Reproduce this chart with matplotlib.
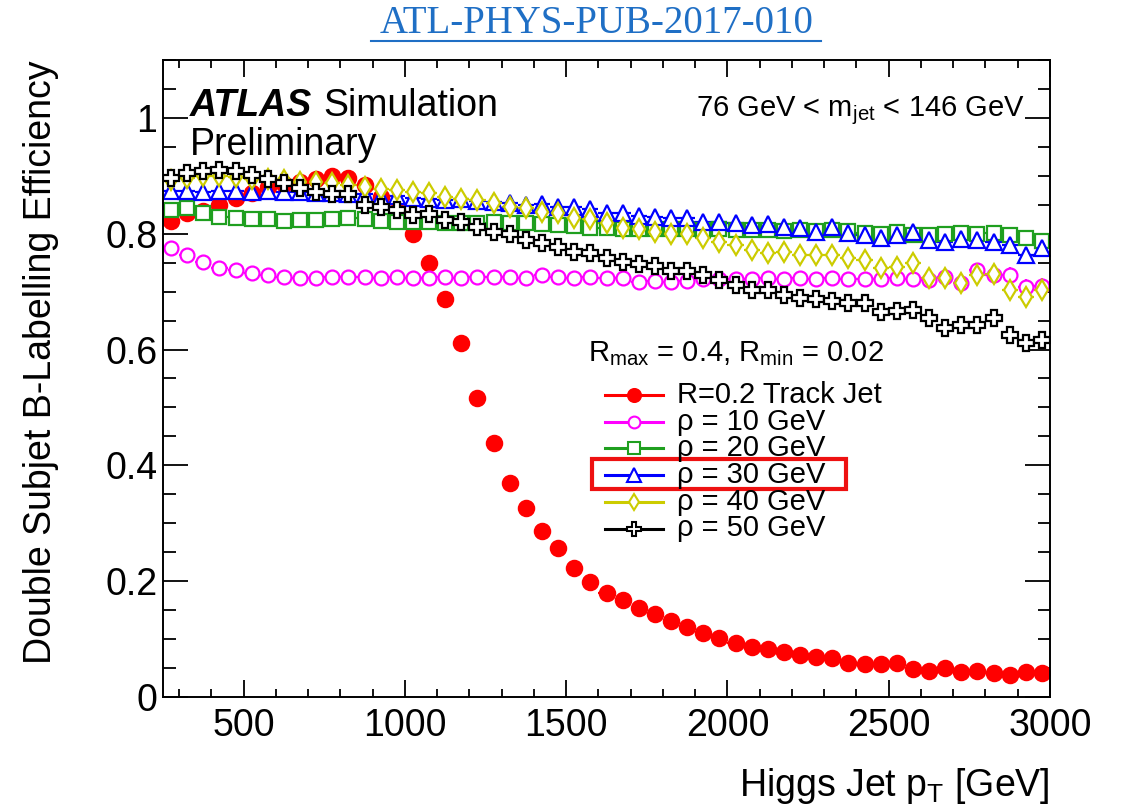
import numpy as np
import matplotlib
matplotlib.use('Agg')
import matplotlib.pyplot as plt
from matplotlib.lines import Line2D
from matplotlib.patches import Rectangle
from matplotlib.ticker import MultipleLocator, FuncFormatter

plt.rcParams['font.family'] = ['Liberation Sans', 'DejaVu Sans']
plt.rcParams['mathtext.fontset'] = 'custom'
plt.rcParams['mathtext.rm'] = 'Liberation Sans'
plt.rcParams['mathtext.it'] = 'Liberation Sans:italic'
plt.rcParams['mathtext.bf'] = 'Liberation Sans:bold'

# ── Data ─────────────────────────────────────────────────────────────────────
pt_centres = np.arange(275, 3000, 50)   # 50 GeV bins, 250 - 3000 GeV
half_bin = 25

eff_track = [0.822, 0.836, 0.839, 0.850, 0.862, 0.870, 0.881, 0.886, 0.890, 0.895,
             0.900, 0.897, 0.884, 0.863, 0.840, 0.800, 0.750, 0.688, 0.611, 0.517,
             0.438, 0.370, 0.327, 0.287, 0.257, 0.223, 0.199, 0.180, 0.167, 0.154,
             0.143, 0.131, 0.121, 0.110, 0.102, 0.093, 0.087, 0.083, 0.078, 0.073,
             0.069, 0.067, 0.059, 0.057, 0.057, 0.059, 0.048, 0.045, 0.050, 0.043,
             0.045, 0.041, 0.038, 0.043, 0.041]
eff_rho10 = [0.775, 0.764, 0.751, 0.741, 0.737, 0.732, 0.728, 0.725, 0.724, 0.724,
             0.725, 0.725, 0.726, 0.724, 0.725, 0.724, 0.724, 0.726, 0.724, 0.725,
             0.726, 0.725, 0.724, 0.728, 0.725, 0.724, 0.725, 0.723, 0.724, 0.717,
             0.718, 0.717, 0.718, 0.722, 0.721, 0.722, 0.722, 0.723, 0.722, 0.723,
             0.722, 0.723, 0.721, 0.722, 0.721, 0.723, 0.722, 0.720, 0.725, 0.715,
             0.737, 0.729, 0.729, 0.708, 0.710]
eff_rho20 = [0.841, 0.845, 0.836, 0.829, 0.827, 0.826, 0.826, 0.822, 0.824, 0.824,
             0.826, 0.827, 0.826, 0.822, 0.820, 0.820, 0.820, 0.818, 0.818, 0.818,
             0.820, 0.819, 0.818, 0.817, 0.815, 0.813, 0.810, 0.810, 0.809, 0.808,
             0.808, 0.809, 0.808, 0.807, 0.808, 0.807, 0.806, 0.806, 0.805, 0.806,
             0.804, 0.806, 0.804, 0.802, 0.800, 0.803, 0.798, 0.797, 0.799, 0.801,
             0.800, 0.801, 0.797, 0.792, 0.787]
eff_rho30 = [0.873, 0.874, 0.872, 0.873, 0.873, 0.872, 0.873, 0.872, 0.872, 0.871,
             0.870, 0.869, 0.868, 0.864, 0.866, 0.862, 0.860, 0.858, 0.860, 0.856,
             0.855, 0.853, 0.850, 0.851, 0.846, 0.847, 0.843, 0.836, 0.836, 0.831,
             0.829, 0.827, 0.828, 0.820, 0.821, 0.819, 0.815, 0.817, 0.812, 0.810,
             0.803, 0.812, 0.801, 0.798, 0.793, 0.798, 0.803, 0.789, 0.786, 0.791,
             0.789, 0.786, 0.780, 0.763, 0.775]
eff_rho40 = [0.893, 0.897, 0.900, 0.899, 0.898, 0.895, 0.894, 0.893, 0.890, 0.889,
             0.888, 0.885, 0.881, 0.877, 0.875, 0.872, 0.870, 0.864, 0.860, 0.858,
             0.853, 0.847, 0.844, 0.838, 0.835, 0.828, 0.825, 0.818, 0.810, 0.809,
             0.803, 0.800, 0.800, 0.793, 0.786, 0.781, 0.772, 0.767, 0.769, 0.763,
             0.763, 0.763, 0.758, 0.755, 0.741, 0.743, 0.750, 0.724, 0.724, 0.715,
             0.729, 0.730, 0.703, 0.690, 0.703]
eff_rho50 = [0.896, 0.905, 0.908, 0.910, 0.908, 0.902, 0.895, 0.888, 0.879, 0.872,
             0.868, 0.868, 0.850, 0.847, 0.841, 0.832, 0.834, 0.824, 0.820, 0.812,
             0.803, 0.800, 0.789, 0.784, 0.777, 0.769, 0.766, 0.758, 0.752, 0.748,
             0.745, 0.735, 0.735, 0.729, 0.720, 0.712, 0.703, 0.703, 0.694, 0.689,
             0.688, 0.683, 0.681, 0.680, 0.665, 0.667, 0.668, 0.655, 0.637, 0.643,
             0.643, 0.655, 0.625, 0.611, 0.617]

# stat. uncertainties (only visible at high pT)
err_track = [0.004] * 55
err_rho = [0.003, 0.003, 0.003, 0.003, 0.003, 0.003, 0.003, 0.003, 0.003, 0.003,
           0.003, 0.003, 0.003, 0.003, 0.003, 0.003, 0.003, 0.003, 0.003, 0.003,
           0.003, 0.003, 0.003, 0.004, 0.004, 0.004, 0.004, 0.004, 0.004, 0.005,
           0.005, 0.005, 0.005, 0.005, 0.006, 0.006, 0.006, 0.006, 0.007, 0.007,
           0.008, 0.008, 0.008, 0.009, 0.009, 0.010, 0.010, 0.011, 0.011, 0.012,
           0.012, 0.013, 0.013, 0.014, 0.014]

labels  = ['R=0.2 Track Jet', 'ρ = 10 GeV', 'ρ = 20 GeV', 'ρ = 30 GeV', 'ρ = 40 GeV', 'ρ = 50 GeV']
values  = [eff_track, eff_rho10, eff_rho20, eff_rho30, eff_rho40, eff_rho50]
errors  = [err_track, err_rho, err_rho, err_rho, err_rho, err_rho]
colors  = ['#ff0000', '#ff00ff', '#1f9f1f', '#0000ff', '#cccc00', '#000000']
markers = ['o', 'o', 's', '^', 'd', 'P']
sizes   = [11, 10, 9.5, 11.5, 10, 12]
filled  = [True, False, False, False, False, False]

# ── Figure ────────────────────────────────────────────────────────────────────
fig = plt.figure(figsize=(11.22, 8.09), dpi=100)
ax = fig.add_axes([163/1122, 1 - 697/809, 887/1122, 637/809])

for y, e, c, m, s, f in zip(values, errors, colors, markers, sizes, filled):
    ax.errorbar(pt_centres, y, xerr=half_bin, yerr=e, fmt=m, color=c,
                mfc=c if f else 'white', mec=c, ms=s, mew=1.6,
                elinewidth=1.6, capsize=0)

ax.set_xlim(250, 3000)
ax.set_ylim(0, 1.1)
ax.xaxis.set_major_locator(MultipleLocator(500))
ax.xaxis.set_minor_locator(MultipleLocator(100))
ax.yaxis.set_major_locator(MultipleLocator(0.2))
ax.yaxis.set_minor_locator(MultipleLocator(0.05))
ax.yaxis.set_major_formatter(FuncFormatter(lambda v, _: f'{v:g}'))

ax.tick_params(which='both', direction='in', top=True, right=True, width=1.3,
               labelsize=27)
ax.tick_params(axis='x', which='major', length=12, pad=8)
ax.tick_params(axis='x', which='minor', length=6)
ax.tick_params(axis='y', which='major', length=18, pad=4)
ax.tick_params(axis='y', which='minor', length=9)
for sp in ax.spines.values():
    sp.set_linewidth(1.4)

ax.set_xlabel(r'Higgs Jet p$_{\mathrm{T}}$ [GeV]', fontsize=27, loc='right', labelpad=16)
ax.set_ylabel('Double Subjet B-Labelling Efficiency', fontsize=27, loc='top', labelpad=33)

# ATLAS label
fig.text(190/1122, 1 - 116/809, 'ATLAS', fontsize=27, fontweight='bold', style='italic')
fig.text(323/1122, 1 - 116/809, 'Simulation', fontsize=27)
fig.text(190/1122, 1 - 155/809, 'Preliminary', fontsize=27)
fig.text(1025/1122, 1 - 116/809, r'76 GeV < m$_{\mathrm{jet}}$ < 146 GeV',
         fontsize=21, ha='right')

# hand-made ROOT style legend
fig.text(588/1122, 1 - 361/809, r'R$_{\mathrm{max}}$ = 0.4, R$_{\mathrm{min}}$ = 0.02', fontsize=21)
row0, step = 395, 26.7
for i, (lab, c, m, s, f) in enumerate(zip(labels, colors, markers, sizes, filled)):
    yy = 1 - (row0 + i * step) / 809
    fig.add_artist(Line2D([605/1122, 663/1122], [yy, yy], color=c, lw=2.2,
                          transform=fig.transFigure))
    fig.add_artist(Line2D([634/1122], [yy], marker=m, ms=s * 0.85, mfc=c if f else 'white',
                          mec=c, mew=1.5, transform=fig.transFigure))
    fig.text(677/1122, yy, lab, fontsize=21, va='center')

# highlight box from the slide
fig.add_artist(Rectangle((592/1122, 1 - 489/809), 254/1122, 30/809, fill=False,
                         ec='#ee1111', lw=3, transform=fig.transFigure))

# document reference on top
fig.text(597/1122, 1 - 33/809, 'ATL-PHYS-PUB-2017-010', fontsize=28,
         family='Liberation Serif', color='#1f6fc5', ha='center', va='baseline')
fig.add_artist(Line2D([371/1122, 821/1122], [1 - 41/809, 1 - 41/809], color='#1f6fc5',
                      lw=1.5, transform=fig.transFigure))

fig.savefig('out.png', dpi=100)
